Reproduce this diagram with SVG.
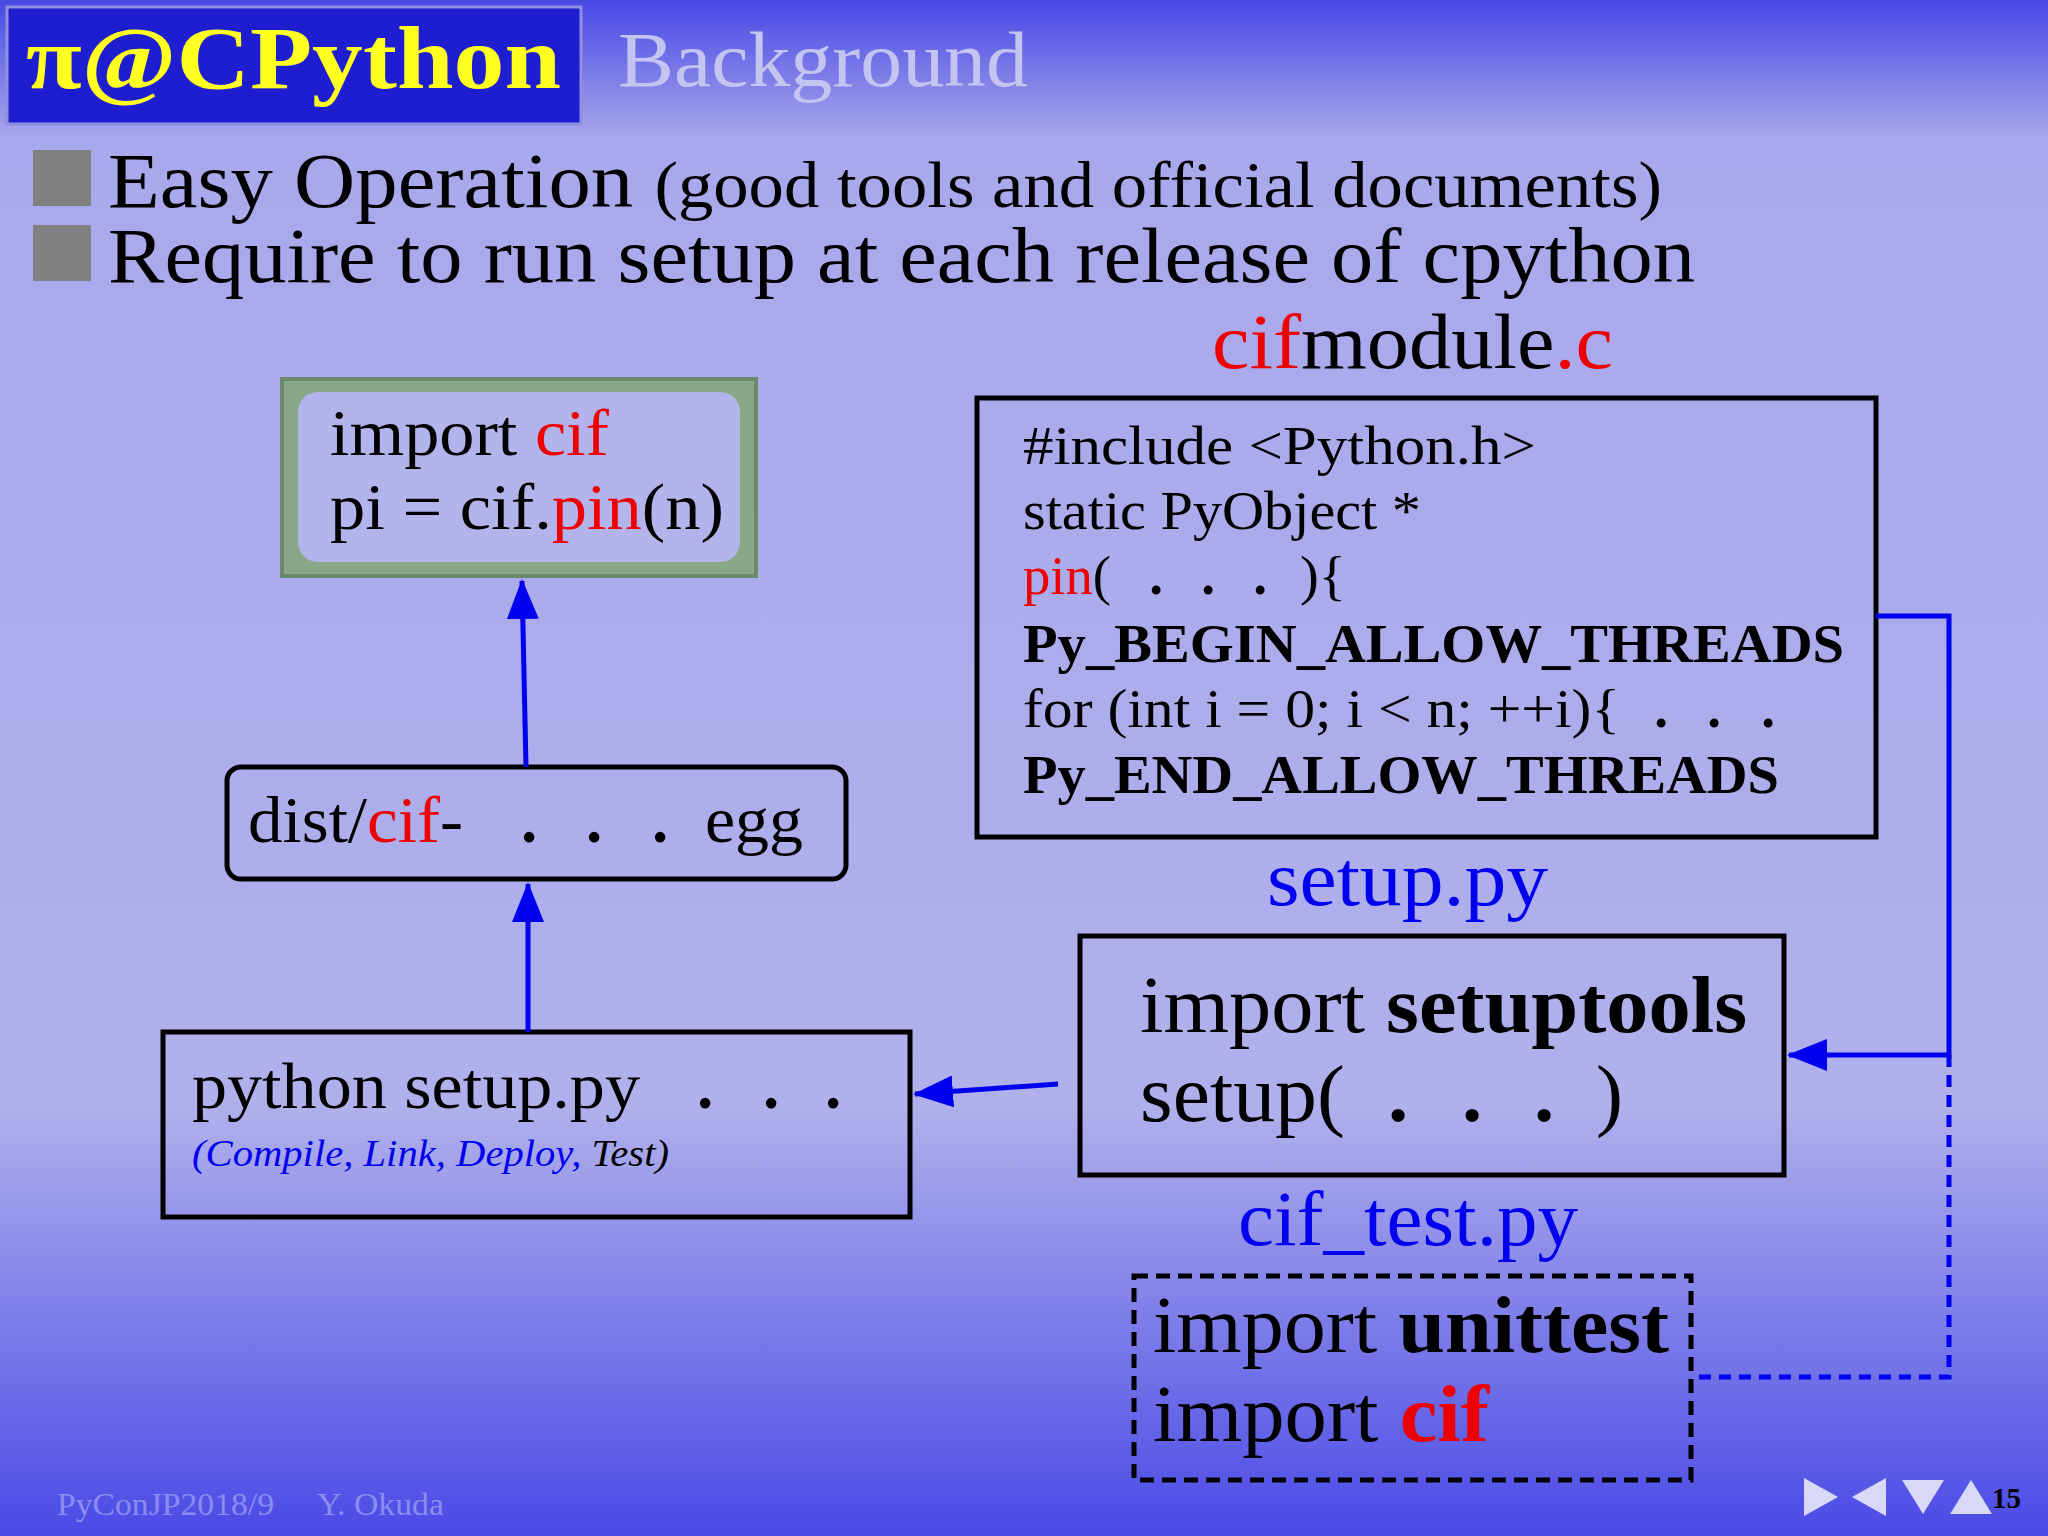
<svg xmlns="http://www.w3.org/2000/svg" width="2048" height="1536" viewBox="0 0 2048 1536">
<defs>
<linearGradient id="bg" x1="0" y1="0" x2="0" y2="1">
<stop offset="0" stop-color="#4848e4"/><stop offset="0.09" stop-color="#a8a8ec"/><stop offset="0.72" stop-color="#b0b0ec"/><stop offset="1" stop-color="#4a4ae6"/>
</linearGradient>
<marker id="ah" viewBox="0 0 40 40" refX="38" refY="20" markerWidth="40" markerHeight="40" orient="auto" markerUnits="userSpaceOnUse"><path d="M0,4 L40,20 L0,36 Z" fill="#0000ee"/></marker>
</defs>
<style>
text{font-family:"Liberation Serif","DejaVu Serif",serif;fill:#000}
.r{fill:#ee0000}.b{fill:#0000ee}.bd{font-weight:bold}
.d{font-weight:bold;text-anchor:middle}
.box{fill:none;stroke:#000;stroke-width:5}
.con{stroke:#0000ee;stroke-width:5;fill:none}
</style>
<rect width="2048" height="1536" fill="url(#bg)"/>
<g id="title">
<rect x="7" y="7" width="574" height="117" fill="#1e1ed0" stroke="#9090e0" stroke-width="3"/>
<text x="26" y="88" font-size="88" font-weight="bold" style="fill:#ffff20" textLength="535" lengthAdjust="spacingAndGlyphs">π@CPython</text>
<text x="618" y="86" font-size="78" style="fill:#c4c4f0" textLength="410" lengthAdjust="spacingAndGlyphs">Background</text>
</g>
<g id="bullets">
<rect x="33" y="150" width="58" height="56" fill="#808080"/>
<rect x="33" y="225" width="58" height="56" fill="#808080"/>
<text x="108" y="207" font-size="78" textLength="1554" lengthAdjust="spacingAndGlyphs">Easy Operation <tspan font-size="65">(good tools and official documents)</tspan></text>
<text x="108" y="282" font-size="78" textLength="1587" lengthAdjust="spacingAndGlyphs">Require to run setup at each release of cpython</text>
</g>
<g id="cifmodule">
<text x="1212" y="368" font-size="78" textLength="401" lengthAdjust="spacingAndGlyphs"><tspan class="r">cif</tspan>module<tspan class="r">.c</tspan></text>
<rect x="977" y="398" width="899" height="439" class="box"/>
<g font-size="55">
<text x="1023" y="464" textLength="513" lengthAdjust="spacingAndGlyphs">#include &lt;Python.h&gt;</text>
<text x="1023" y="529" textLength="398" lengthAdjust="spacingAndGlyphs">static PyObject *</text>
<text x="1023" y="594" textLength="88" lengthAdjust="spacingAndGlyphs"><tspan class="r">pin</tspan>(</text>
<text x="1156" y="594" class="d">.</text><text x="1208" y="594" class="d">.</text><text x="1260" y="594" class="d">.</text>
<text x="1300" y="594" textLength="46" lengthAdjust="spacingAndGlyphs">){</text>
<text x="1023" y="662" class="bd" textLength="821" lengthAdjust="spacingAndGlyphs">Py_BEGIN_ALLOW_THREADS</text>
<text x="1023" y="727" textLength="597" lengthAdjust="spacingAndGlyphs">for (int i = 0; i &lt; n; ++i){</text>
<text x="1661" y="727" class="d">.</text><text x="1714" y="727" class="d">.</text><text x="1768" y="727" class="d">.</text>
<text x="1023" y="793" class="bd" textLength="756" lengthAdjust="spacingAndGlyphs">Py_END_ALLOW_THREADS</text>
</g>
</g>
<g id="importcif">
<rect x="282" y="379" width="474" height="197" fill="#88a888" stroke="#6a8a6a" stroke-width="4"/>
<rect x="298" y="392" width="442" height="170" rx="20" fill="#b4b4ec"/>
<text x="330" y="455" font-size="65" textLength="279" lengthAdjust="spacingAndGlyphs">import <tspan class="r">cif</tspan></text>
<text x="330" y="529" font-size="65" textLength="394" lengthAdjust="spacingAndGlyphs">pi = cif.<tspan class="r">pin</tspan>(n)</text>
</g>
<g id="dist" font-size="65">
<rect x="227" y="767" width="619" height="112" rx="14" class="box"/>
<text x="248" y="842" textLength="215" lengthAdjust="spacingAndGlyphs">dist/<tspan class="r">cif</tspan>-</text>
<text x="529" y="842" class="d">.</text><text x="594" y="842" class="d">.</text><text x="660" y="842" class="d">.</text>
<text x="705" y="842" textLength="98" lengthAdjust="spacingAndGlyphs">egg</text>
</g>
<g id="python">
<rect x="163" y="1032" width="747" height="185" class="box"/>
<text x="192" y="1108" font-size="65" textLength="448" lengthAdjust="spacingAndGlyphs">python setup.py</text>
<g font-size="65"><text x="705" y="1108" class="d">.</text><text x="771" y="1108" class="d">.</text><text x="833" y="1108" class="d">.</text></g>
<text x="192" y="1166" font-size="37" font-style="italic" textLength="477" lengthAdjust="spacingAndGlyphs"><tspan class="b">(Compile, Link, Deploy,</tspan> Test)</text>
</g>
<g id="setup">
<text x="1267" y="905" font-size="78" class="b" textLength="281" lengthAdjust="spacingAndGlyphs">setup.py</text>
<rect x="1080" y="936" width="704" height="239" class="box"/>
<text x="1140" y="1032" font-size="81" textLength="607" lengthAdjust="spacingAndGlyphs">import <tspan class="bd">setuptools</tspan></text>
<g font-size="81">
<text x="1140" y="1121" textLength="205" lengthAdjust="spacingAndGlyphs">setup(</text>
<text x="1398" y="1121" class="d">.</text><text x="1472" y="1121" class="d">.</text><text x="1544" y="1121" class="d">.</text>
<text x="1596" y="1121">)</text>
</g>
</g>
<g id="test">
<text x="1238" y="1245" font-size="78" class="b" textLength="340" lengthAdjust="spacingAndGlyphs">cif_test.py</text>
<rect x="1134" y="1276" width="557" height="204" class="box" stroke-dasharray="14,8"/>
<text x="1153" y="1352" font-size="81" textLength="516" lengthAdjust="spacingAndGlyphs">import <tspan class="bd">unittest</tspan></text>
<text x="1153" y="1441" font-size="81" textLength="336" lengthAdjust="spacingAndGlyphs">import <tspan class="bd r">cif</tspan></text>
</g>
<g id="connectors">
<path d="M528,1032 L528,884" class="con" marker-end="url(#ah)"/>
<path d="M526,767 L522,581" class="con" marker-end="url(#ah)"/>
<path d="M1058,1084 L915,1094" class="con" marker-end="url(#ah)"/>
<path d="M1876,616 L1949,616 L1949,1055 L1789,1055" class="con" marker-end="url(#ah)"/>
<path d="M1949,1055 L1949,1377 L1693,1377" class="con" stroke-dasharray="12,8"/>
</g>
<g id="footer">
<text x="57" y="1515" font-size="31" style="fill:#8c8cf0" textLength="217" lengthAdjust="spacingAndGlyphs">PyConJP2018/9</text>
<text x="317" y="1515" font-size="31" style="fill:#8c8cf0" textLength="127" lengthAdjust="spacingAndGlyphs">Y. Okuda</text>
<g fill="#d8d8f8">
<path d="M1804,1478 L1804,1516 L1838,1497 Z"/>
<path d="M1886,1478 L1886,1516 L1852,1497 Z"/>
<path d="M1902,1480 L1944,1480 L1923,1514 Z"/>
<path d="M1950,1514 L1992,1514 L1971,1480 Z"/>
</g>
<text x="1992" y="1508" font-size="29" class="bd">15</text>
</g>
</svg>
